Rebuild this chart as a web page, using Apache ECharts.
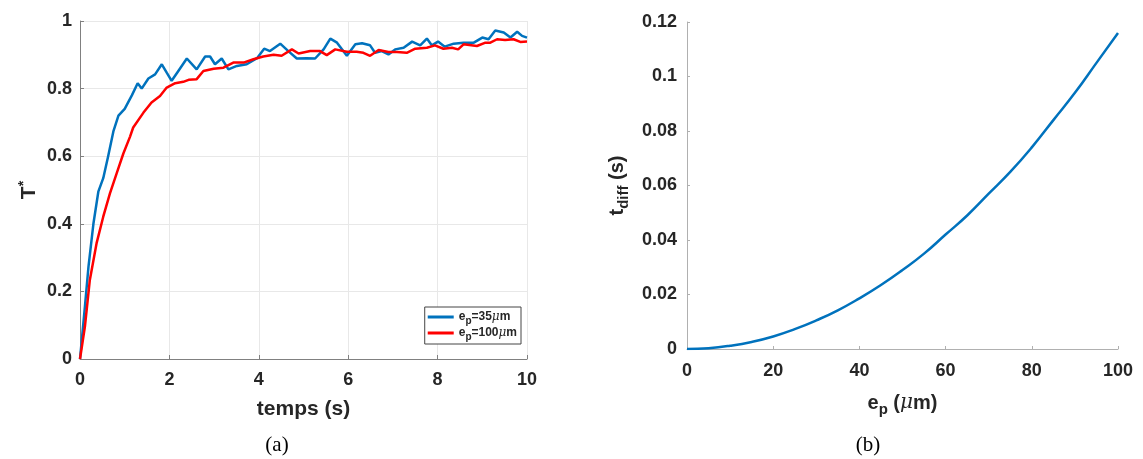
<!DOCTYPE html>
<html><head><meta charset="utf-8">
<script src="https://cdn.jsdelivr.net/npm/echarts@6/dist/echarts.min.js"></script>
<style>html,body{margin:0;padding:0;background:#fff}#c{width:1143px;height:459px}</style>
</head><body><div id="c"></div>
<script>
// Panel (a): T* vs temps (s)
const blueT = [0,0.11,0.19,0.30,0.41,0.52,0.63,0.75,0.86,1.0,1.16,1.29,1.38,1.53,1.68,1.83,1.94,2.05,2.2,2.39,2.61,2.8,2.91,3.02,3.17,3.32,3.51,3.73,3.96,4.12,4.25,4.48,4.66,4.85,5.07,5.26,5.45,5.6,5.75,5.97,6.16,6.31,6.49,6.6,6.75,6.9,7.05,7.24,7.43,7.61,7.76,7.87,8.01,8.16,8.36,8.58,8.81,9.0,9.14,9.29,9.48,9.63,9.78,9.89,10];
const blueV = [0,0.155,0.273,0.40,0.495,0.535,0.60,0.675,0.72,0.74,0.78,0.816,0.80,0.83,0.842,0.872,0.847,0.823,0.852,0.889,0.857,0.895,0.895,0.872,0.889,0.857,0.867,0.872,0.89,0.918,0.911,0.933,0.911,0.889,0.89,0.889,0.916,0.948,0.936,0.897,0.931,0.934,0.928,0.906,0.911,0.901,0.916,0.921,0.939,0.928,0.948,0.928,0.939,0.924,0.933,0.936,0.936,0.951,0.946,0.972,0.966,0.951,0.968,0.956,0.951];
const redT = [0,0.11,0.22,0.37,0.52,0.67,0.82,0.97,1.12,1.19,1.42,1.6,1.79,1.94,2.13,2.31,2.43,2.61,2.76,2.99,3.21,3.43,3.66,3.88,4.1,4.33,4.51,4.74,4.89,5.15,5.37,5.52,5.71,5.97,6.19,6.34,6.49,6.68,6.9,7.09,7.31,7.5,7.76,7.94,8.13,8.32,8.46,8.58,8.88,9.07,9.18,9.33,9.51,9.7,9.85,10];
const redV = [0,0.096,0.234,0.342,0.421,0.49,0.549,0.608,0.658,0.685,0.729,0.759,0.778,0.803,0.816,0.82,0.826,0.828,0.852,0.859,0.862,0.877,0.877,0.887,0.895,0.9,0.897,0.916,0.904,0.911,0.911,0.899,0.916,0.909,0.909,0.906,0.897,0.914,0.908,0.908,0.906,0.918,0.921,0.928,0.918,0.921,0.916,0.931,0.926,0.936,0.936,0.946,0.944,0.946,0.938,0.939];
// Panel (b): t_diff vs e_p
const ep = [0,5,10,15,20,25,30,35,40,45,50,55,60,65,70,75,80,85,90,95,100];
const tdiff = [0,0.0003,0.0012,0.0026,0.0046,0.0073,0.0105,0.0142,0.0186,0.0235,0.029,0.035,0.042,0.049,0.057,0.065,0.074,0.084,0.094,0.105,0.116];

const FONT = 'Liberation Sans';
const TC = '#262626';
const lbl = {color: TC, fontFamily: FONT, fontWeight: 'bold', fontSize: 18};
const pairs = (a,b) => a.map((v,i)=>[v,b[i]]);

const chart = echarts.init(document.getElementById('c'), null, {renderer:'canvas'});
chart.setOption({
  animation: false,
  backgroundColor: '#fff',
  title: [
    {text: '(a)', left: 272, top: 430, textAlign: 'center', textStyle: {fontFamily: 'Liberation Serif', fontWeight: 'normal', fontSize: 21, color: '#000'}},
    {text: '(b)', left: 863, top: 430, textAlign: 'center', textStyle: {fontFamily: 'Liberation Serif', fontWeight: 'normal', fontSize: 21, color: '#000'}}
  ],
  grid: [
    {left: 80, right: 616, top: 21, bottom: 100},
    {left: 687, right: 25, top: 22, bottom: 110}
  ],
  legend: {
    data: ['a35','a100'],
    right: 1143-521, top: 307,
    orient: 'vertical',
    itemWidth: 26, itemHeight: 3, itemGap: 1,
    padding: [4,4,2,3],
    borderColor: '#444', borderWidth: 1, backgroundColor: '#fff',
    icon: 'rect',
    formatter: n => n === 'a35' ? '{b|e}{s|p}{b|=35}{m|μ}{b|m}' : '{b|e}{s|p}{b|=100}{m|μ}{b|m}',
    textStyle: {
      color: TC,
      rich: {
        b: {fontFamily: FONT, fontWeight: 'bold', fontSize: 12, color: TC},
        s: {fontFamily: FONT, fontWeight: 'bold', fontSize: 10, color: TC, padding: [8,0,0,0]},
        m: {fontFamily: 'DejaVu Serif', fontStyle: 'italic', fontSize: 12, color: TC}
      }
    }
  },
  xAxis: [
    {gridIndex: 0, type: 'value', min: 0, max: 10, interval: 2,
     name: 'temps (s)', nameLocation: 'middle', nameGap: 40,
     nameTextStyle: {color: TC, fontFamily: FONT, fontWeight: 'bold', fontSize: 21},
     axisLine: {lineStyle: {color: '#808080', width: 1}},
     axisTick: {inside: true, length: 4, lineStyle: {color: '#808080'}},
     axisLabel: Object.assign({margin: 12}, lbl),
     splitLine: {show: true, lineStyle: {color: '#e8e8e8', width: 1}}},
    {gridIndex: 1, type: 'value', min: 0, max: 100, interval: 20,
     name: '{b|e}{s|p}{b| (}{m|μ}{b|m)}', nameLocation: 'middle', nameGap: 40,
     nameTextStyle: {rich: {
        b: {fontFamily: FONT, fontWeight: 'bold', fontSize: 20, color: TC},
        s: {fontFamily: FONT, fontWeight: 'bold', fontSize: 15, color: TC, padding: [13,0,0,0]},
        m: {fontFamily: 'DejaVu Serif', fontStyle: 'italic', fontSize: 20, color: TC}}},
     axisLine: {lineStyle: {color: '#b0b0b0', width: 1}},
     axisTick: {inside: true, length: 3, lineStyle: {color: '#b0b0b0'}},
     axisLabel: Object.assign({margin: 13}, lbl),
     splitLine: {show: false}}
  ],
  yAxis: [
    {gridIndex: 0, type: 'value', min: 0, max: 1, interval: 0.2,
     name: '{t|T}{sup|*}', nameLocation: 'middle', nameGap: 39, nameRotate: 90,
     nameTextStyle: {rich: {
        t: {fontFamily: FONT, fontWeight: 'bold', fontSize: 21, color: TC},
        sup: {fontFamily: FONT, fontWeight: 'bold', fontSize: 14, color: TC, padding: [0,0,10,0]}}},
     axisLine: {show: true, lineStyle: {color: '#808080', width: 1}},
     axisTick: {show: true, inside: true, length: 4, lineStyle: {color: '#808080'}},
     axisLabel: Object.assign({margin: 8}, lbl),
     splitLine: {show: true, lineStyle: {color: '#e8e8e8', width: 1}}},
    {gridIndex: 1, type: 'value', min: 0, max: 0.12, interval: 0.02,
     name: '{b|t}{s|diff}{b| (s)}', nameLocation: 'middle', nameGap: 56, nameRotate: 90,
     nameTextStyle: {rich: {
        b: {fontFamily: FONT, fontWeight: 'bold', fontSize: 20, color: TC},
        s: {fontFamily: FONT, fontWeight: 'bold', fontSize: 15, color: TC, padding: [13,0,0,0]}}},
     axisLine: {show: true, lineStyle: {color: '#b0b0b0', width: 1}},
     axisTick: {show: true, inside: true, length: 3, lineStyle: {color: '#b0b0b0'}},
     axisLabel: Object.assign({margin: 10}, lbl),
     splitLine: {show: false}}
  ],
  series: [
    {name: 'a35', type: 'line', xAxisIndex: 0, yAxisIndex: 0, data: pairs(blueT, blueV),
     showSymbol: false, smooth: false, lineStyle: {color: '#0072BD', width: 2.5}, itemStyle: {color: '#0072BD'}},
    {name: 'a100', type: 'line', xAxisIndex: 0, yAxisIndex: 0, data: pairs(redT, redV),
     showSymbol: false, smooth: false, lineStyle: {color: '#FF0000', width: 2.5}, itemStyle: {color: '#FF0000'}},
    {name: 'tdiff', type: 'line', xAxisIndex: 1, yAxisIndex: 1, data: pairs(ep, tdiff),
     showSymbol: false, smooth: true, lineStyle: {color: '#0072BD', width: 2.5}, itemStyle: {color: '#0072BD'}}
  ]
});
</script></body></html>
